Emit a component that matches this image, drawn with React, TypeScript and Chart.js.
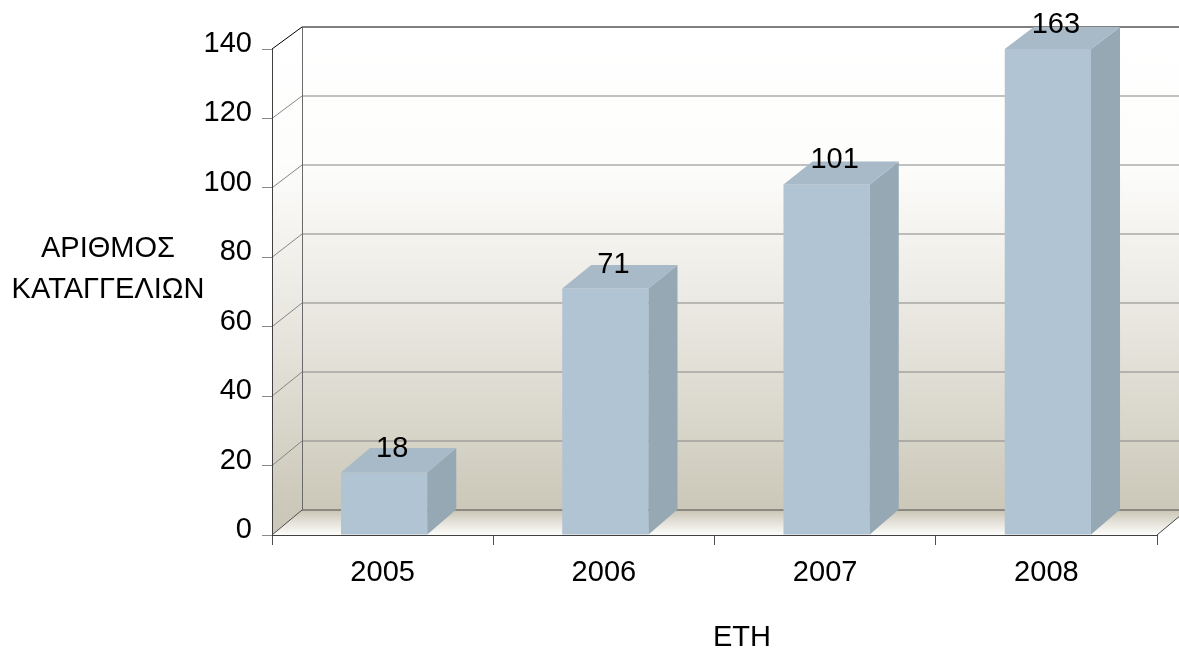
import React, { useEffect, useRef } from 'react';
import { Chart, registerables } from 'chart.js';

Chart.register(...registerables);

const categories = ['2005', '2006', '2007', '2008'];
const complaints = [18, 71, 101, 163];
const yMin = 0;
const yMax = 140;
const yStep = 20;
const yTitleLines = ['ΑΡΙΘΜΟΣ', 'ΚΑΤΑΓΓΕΛΙΩΝ'];
const xTitle = 'ΕΤΗ';

const FONT = '"Liberation Sans", Arial, sans-serif';
const FONT_SIZE = 29;
const WALL_DX = 30;
const BAR_DX = 29;
const DY_TOP = -22;
const DY_BOTTOM = -25;

function backYFactory(T: number, B: number) {
  return (y: number) => {
    const t = (B - y) / (B - T);
    return y + DY_BOTTOM + (DY_TOP - DY_BOTTOM) * t;
  };
}

const wallsPlugin = {
  id: 'walls3d',
  beforeDraw(chart: any) {
    const { ctx, chartArea } = chart;
    const { left: L, right: R, top: T, bottom: B } = chartArea;
    const backY = backYFactory(T, B);
    const yScale = chart.scales.y;
    const bT = backY(T);
    const bB = backY(B);
    ctx.save();
    const g = ctx.createLinearGradient(0, bT, 0, bB);
    g.addColorStop(0, '#ffffff');
    g.addColorStop(0.28, '#fdfdfc');
    g.addColorStop(0.6, '#e9e7e0');
    g.addColorStop(1, '#cbc8b9');
    ctx.fillStyle = g;
    ctx.fillRect(L + WALL_DX, bT, R - L + 40, bB - bT);
    ctx.beginPath();
    ctx.moveTo(L, T);
    ctx.lineTo(L + WALL_DX, bT);
    ctx.lineTo(L + WALL_DX, bB);
    ctx.lineTo(L, B);
    ctx.closePath();
    ctx.fill();
    const fg = ctx.createLinearGradient(0, bB, 0, B);
    fg.addColorStop(0, '#c9c5b5');
    fg.addColorStop(0.5, '#e4e2d9');
    fg.addColorStop(1, '#fcfcfa');
    ctx.fillStyle = fg;
    ctx.beginPath();
    ctx.moveTo(L, B);
    ctx.lineTo(L + WALL_DX, bB);
    ctx.lineTo(R + WALL_DX, bB);
    ctx.lineTo(R, B);
    ctx.closePath();
    ctx.fill();
    ctx.lineWidth = 1;
    yScale.ticks.forEach((tk: any) => {
      const v = tk.value;
      const fy = yScale.getPixelForValue(v);
      const by = backY(fy);
      ctx.strokeStyle = v === yMax ? '#000000' : v === yMin ? '#4a4a4a' : '#858585';
      ctx.beginPath();
      ctx.moveTo(L + WALL_DX, by);
      ctx.lineTo(R + WALL_DX + 40, by);
      ctx.stroke();
      ctx.beginPath();
      ctx.moveTo(L, fy);
      ctx.lineTo(L + WALL_DX, by);
      ctx.stroke();
    });
    ctx.strokeStyle = '#6a6a6a';
    ctx.beginPath();
    ctx.moveTo(L + WALL_DX + 0.5, bT);
    ctx.lineTo(L + WALL_DX + 0.5, bB);
    ctx.stroke();
    ctx.strokeStyle = '#444444';
    ctx.beginPath();
    ctx.moveTo(R, B);
    ctx.lineTo(R + WALL_DX, bB);
    ctx.stroke();
    ctx.restore();
  },
};

const barsPlugin = {
  id: 'bars3d',
  afterDatasetsDraw(chart: any) {
    const { ctx, chartArea } = chart;
    const { top: T, bottom: B } = chartArea;
    const backY = backYFactory(T, B);
    const meta = chart.getDatasetMeta(0);
    const values = chart.data.datasets[0].data;
    ctx.save();
    meta.data.forEach((el: any, i: number) => {
      const { x, y, base, width } = el.getProps(['x', 'y', 'base', 'width'], true);
      const cx = x + 1.5;
      const l = cx - width / 2;
      const r = cx + width / 2;
      const top = Math.max(y, T);
      const bot = base;
      const tb = backY(top);
      const bb = backY(bot);
      ctx.fillStyle = '#b1c4d3';
      ctx.fillRect(l, top, r - l, bot - top);
      ctx.fillStyle = '#96a8b4';
      ctx.beginPath();
      ctx.moveTo(r, top);
      ctx.lineTo(r + BAR_DX, tb);
      ctx.lineTo(r + BAR_DX, bb);
      ctx.lineTo(r, bot);
      ctx.closePath();
      ctx.fill();
      ctx.fillStyle = '#a8bac7';
      ctx.beginPath();
      ctx.moveTo(l, top);
      ctx.lineTo(l + BAR_DX, tb);
      ctx.lineTo(r + BAR_DX, tb);
      ctx.lineTo(r, top);
      ctx.closePath();
      ctx.fill();
      ctx.fillStyle = '#000000';
      ctx.font = `${FONT_SIZE}px ${FONT}`;
      ctx.textAlign = 'center';
      ctx.textBaseline = 'middle';
      ctx.fillText(String(values[i]), cx + 8, top - 24);
    });
    ctx.restore();
  },
};

const titlesPlugin = {
  id: 'axisTitles',
  afterDraw(chart: any) {
    const { ctx } = chart;
    ctx.save();
    ctx.fillStyle = '#000000';
    ctx.font = `${FONT_SIZE}px ${FONT}`;
    ctx.textBaseline = 'middle';
    ctx.textAlign = 'center';
    ctx.fillText(yTitleLines[0], 108, 249);
    ctx.fillText(yTitleLines[1], 108, 290);
    ctx.textAlign = 'left';
    ctx.fillText(xTitle, 713, 638);
    ctx.restore();
  },
};

export default function App() {
  const ref = useRef<HTMLCanvasElement>(null);
  useEffect(() => {
    document.body.style.margin = '0';
    const canvas = ref.current!;
    const chart = new Chart(canvas, {
      type: 'bar',
      data: {
        labels: categories,
        datasets: [
          {
            data: complaints,
            backgroundColor: 'rgba(0,0,0,0)',
            borderWidth: 0,
            barPercentage: 0.39,
            categoryPercentage: 1,
          },
        ],
      },
      options: {
        responsive: false,
        animation: false,
        devicePixelRatio: 1,
        layout: { padding: { top: 49, right: 22, left: 0, bottom: 0 } },
        plugins: { legend: { display: false }, tooltip: { enabled: false } },
        scales: {
          x: {
            z: 1,
            offset: true,
            afterFit: (s: any) => {
              s.height = 115;
            },
            grid: {
              offset: true,
              drawOnChartArea: false,
              drawTicks: true,
              tickLength: 10,
              color: '#505050',
            },
            border: { display: true, color: '#404040', width: 1 },
            ticks: {
              color: '#000000',
              padding: 11,
              font: { family: FONT, size: FONT_SIZE },
              maxRotation: 0,
            },
          },
          y: {
            min: yMin,
            max: yMax,
            afterFit: (s: any) => {
              s.width = 272;
            },
            grid: {
              drawOnChartArea: false,
              drawTicks: true,
              tickLength: 10,
              color: '#8a8a8a',
            },
            border: { display: true, color: '#404040', width: 1 },
            ticks: {
              stepSize: yStep,
              color: '#000000',
              padding: 10,
              labelOffset: -5,
              font: { family: FONT, size: FONT_SIZE },
            },
          },
        },
      },
      plugins: [wallsPlugin, barsPlugin, titlesPlugin],
    } as any);
    return () => chart.destroy();
  }, []);
  return (
    <div style={{ width: 1179, height: 650 }}>
      <canvas ref={ref} width={1179} height={650} style={{ display: 'block' }} />
    </div>
  );
}
